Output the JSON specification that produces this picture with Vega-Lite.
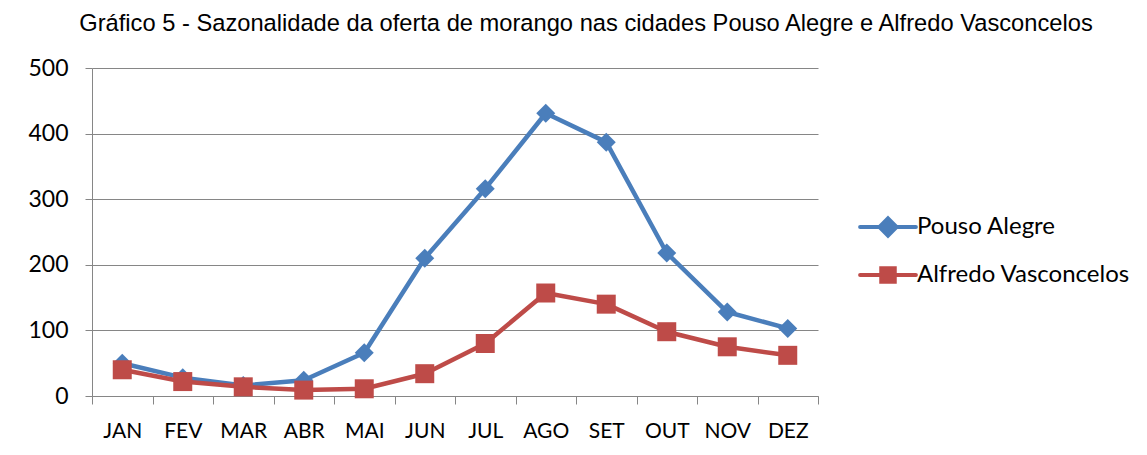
{
  "$schema": "https://vega.github.io/schema/vega-lite/v6.json",
  "width": 726,
  "height": 328,
  "autosize": {"type": "none"},
  "padding": {"left": 92, "top": 68, "right": 329, "bottom": 59},
  "background": "white",
  "title": {
    "text": "Gráfico 5 - Sazonalidade da oferta de morango nas cidades Pouso Alegre e Alfredo Vasconcelos",
    "font": "Liberation Sans",
    "fontSize": 23.7,
    "fontWeight": "normal",
    "color": "#000000",
    "anchor": "middle",
    "frame": "group",
    "dx": 131,
    "baseline": "alphabetic",
    "offset": 2
  },
  "data": {
    "values": [
      {"mes": "JAN", "serie": "Pouso Alegre", "valor": 50},
      {"mes": "FEV", "serie": "Pouso Alegre", "valor": 28},
      {"mes": "MAR", "serie": "Pouso Alegre", "valor": 16},
      {"mes": "ABR", "serie": "Pouso Alegre", "valor": 24},
      {"mes": "MAI", "serie": "Pouso Alegre", "valor": 66},
      {"mes": "JUN", "serie": "Pouso Alegre", "valor": 210},
      {"mes": "JUL", "serie": "Pouso Alegre", "valor": 316},
      {"mes": "AGO", "serie": "Pouso Alegre", "valor": 431},
      {"mes": "SET", "serie": "Pouso Alegre", "valor": 387},
      {"mes": "OUT", "serie": "Pouso Alegre", "valor": 218},
      {"mes": "NOV", "serie": "Pouso Alegre", "valor": 128},
      {"mes": "DEZ", "serie": "Pouso Alegre", "valor": 103},
      {"mes": "JAN", "serie": "Alfredo Vasconcelos", "valor": 40},
      {"mes": "FEV", "serie": "Alfredo Vasconcelos", "valor": 22},
      {"mes": "MAR", "serie": "Alfredo Vasconcelos", "valor": 14},
      {"mes": "ABR", "serie": "Alfredo Vasconcelos", "valor": 9},
      {"mes": "MAI", "serie": "Alfredo Vasconcelos", "valor": 11},
      {"mes": "JUN", "serie": "Alfredo Vasconcelos", "valor": 34},
      {"mes": "JUL", "serie": "Alfredo Vasconcelos", "valor": 80},
      {"mes": "AGO", "serie": "Alfredo Vasconcelos", "valor": 157},
      {"mes": "SET", "serie": "Alfredo Vasconcelos", "valor": 140},
      {"mes": "OUT", "serie": "Alfredo Vasconcelos", "valor": 98},
      {"mes": "NOV", "serie": "Alfredo Vasconcelos", "valor": 75},
      {"mes": "DEZ", "serie": "Alfredo Vasconcelos", "valor": 62}
    ]
  },
  "encoding": {
    "x": {
      "field": "mes",
      "type": "nominal",
      "sort": ["JAN", "FEV", "MAR", "ABR", "MAI", "JUN", "JUL", "AGO", "SET", "OUT", "NOV", "DEZ"],
      "scale": {"paddingInner": 0, "paddingOuter": 0},
      "axis": {
        "title": null,
        "labelAngle": 0,
        "labelFont": "Lato",
        "labelFontSize": 21,
        "labelColor": "#000000",
        "labelBaseline": "alphabetic",
        "labelPadding": 33,
        "tickSize": 8,
        "tickBand": "extent",
        "tickColor": "#868686",
        "domainColor": "#868686",
        "grid": false
      }
    },
    "y": {
      "field": "valor",
      "type": "quantitative",
      "scale": {"domain": [0, 500], "nice": false},
      "axis": {
        "title": null,
        "values": [0, 100, 200, 300, 400, 500],
        "labelFont": "Lato",
        "labelFontSize": 23,
        "labelColor": "#000000",
        "labelPadding": 17,
        "tickSize": 7,
        "tickColor": "#868686",
        "domainColor": "#868686",
        "gridColor": "#868686",
        "gridOpacity": 1,
        "grid": true
      }
    },
    "color": {
      "field": "serie",
      "type": "nominal",
      "sort": ["Pouso Alegre", "Alfredo Vasconcelos"],
      "scale": {"domain": ["Pouso Alegre", "Alfredo Vasconcelos"], "range": ["#4a7ebb", "#be4b48"]},
      "legend": {
        "title": null,
        "orient": "none",
        "legendX": 784,
        "legendY": 147,
        "padding": 0,
        "labelFont": "Lato",
        "labelFontSize": 24,
        "labelColor": "#000000",
        "labelOffset": 17,
        "labelLimit": 400,
        "rowPadding": 16,
        "symbolSize": 324,
        "encode": {
          "symbols": {
            "update": {
              "shape": {"signal": "datum.value === 'Pouso Alegre' ? 'M-3.1,0H3.1M0,-0.95L0.95,0L0,0.95L-0.95,0Z' : 'M-3.1,0H3.1M-0.75,-0.75H0.75V0.75H-0.75Z'"},
              "fill": {"scale": "color", "field": "value"},
              "stroke": {"scale": "color", "field": "value"},
              "strokeWidth": {"value": 4},
              "strokeCap": {"value": "round"},
              "opacity": {"value": 1},
              "fillOpacity": {"value": 1}
            }
          }
        }
      }
    }
  },
  "layer": [
    {
      "mark": {"type": "line", "strokeWidth": 4.5, "strokeJoin": "round"},
      "encoding": {"detail": {"field": "serie"}}
    },
    {
      "transform": [{"filter": "datum.serie === 'Pouso Alegre'"}],
      "mark": {"type": "point", "filled": true, "opacity": 1, "shape": "diamond", "size": 361}
    },
    {
      "transform": [{"filter": "datum.serie === 'Alfredo Vasconcelos'"}],
      "mark": {"type": "point", "filled": true, "opacity": 1, "shape": "square", "size": 361}
    }
  ],
  "config": {"view": {"stroke": null}}
}
